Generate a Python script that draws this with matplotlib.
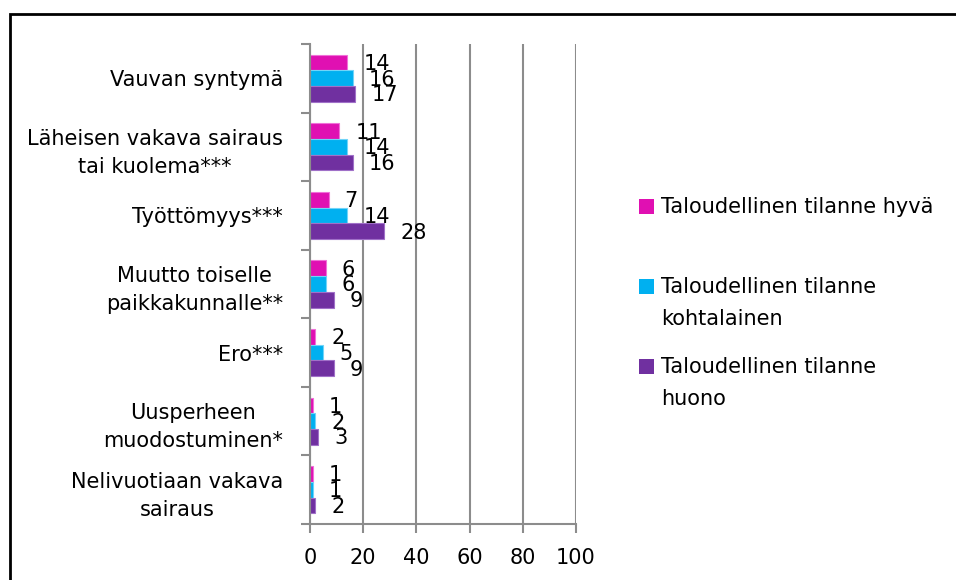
import matplotlib.pyplot as plt
import numpy as np
from matplotlib.patches import Rectangle

categories = [
    "Vauvan syntymä",
    "Läheisen vakava sairaus\ntai kuolema***",
    "Työttömyys***",
    "Muutto toiselle\npaikkakunnalle**",
    "Ero***",
    "Uusperheen\nmuodostuminen*",
    "Nelivuotiaan vakava\nsairaus",
]
series_labels = [
    "Taloudellinen tilanne hyvä",
    "Taloudellinen tilanne\nkohtalainen",
    "Taloudellinen tilanne\nhuono",
]
good = [14, 11, 7, 6, 2, 1, 1]
moderate = [16, 14, 14, 6, 5, 2, 1]
poor = [17, 16, 28, 9, 9, 3, 2]
colors = ["#E010B2", "#00B0F0", "#7030A0"]
edges = ["#F070D8", "#70D4F8", "#A070C8"]
xticks = [0, 20, 40, 60, 80, 100]

W, H = 956, 580
fig = plt.figure(figsize=(W / 100, H / 100), dpi=100)
ax = fig.add_axes([310 / W, 1 - 524 / H, 266 / W, 480 / H])

y = np.arange(len(categories))
bh = 0.229
for k, vals in enumerate([good, moderate, poor]):
    pos = y + (k - 1) * bh
    ax.barh(pos, vals, height=bh, color=colors[k], edgecolor=edges[k],
            linewidth=0.8, zorder=3)
    for p, v in zip(pos, vals):
        ax.annotate(str(v), (v, p), xytext=(11.5, -1), textcoords="offset points",
                    ha="left", va="center", fontsize=15, zorder=4)

ax.set_xlim(0, 100)
ax.set_ylim(len(categories) - 0.5, -0.5)
ax.set_xticks(xticks)
ax.tick_params(axis="x", length=6.5, width=1.5, color="#8C8C8C", pad=11, labelsize=15)

ax.set_yticks(y)
ax.set_yticklabels(categories, fontsize=15, multialignment="center", linespacing=1.5)
ax.tick_params(axis="y", which="major", length=0, pad=19.5)
ax.set_yticks(np.arange(len(categories) + 1) - 0.5, minor=True)
ax.tick_params(axis="y", which="minor", length=6.5, width=1.5, color="#8C8C8C")

ax.grid(axis="x", color="#8C8C8C", linewidth=1.5, zorder=0)
for s in ["top", "right"]:
    ax.spines[s].set_visible(False)
for s in ["left", "bottom"]:
    ax.spines[s].set_color("#8C8C8C")
    ax.spines[s].set_linewidth(1.5)
    ax.spines[s].set_zorder(5)

# legend drawn by hand so markers sit on the first text line
leg_y = [206, 286, 366]
for k, lab in enumerate(series_labels):
    fig.patches.append(Rectangle((639 / W, 1 - (leg_y[k] + 7.5) / H), 15 / W, 15 / H,
                                 transform=fig.transFigure, facecolor=colors[k],
                                 edgecolor="none"))
    fig.text(661 / W, 1 - (leg_y[k] - 9) / H, lab, fontsize=15, va="top", ha="left",
             linespacing=1.75)

# outer frame of the chart area
fig.patches.append(Rectangle((10 / W, -0.1), 1.2, 1.1 - 14 / H, transform=fig.transFigure,
                             facecolor="none", edgecolor="black", linewidth=2))

fig.savefig("out.png", dpi=100)
